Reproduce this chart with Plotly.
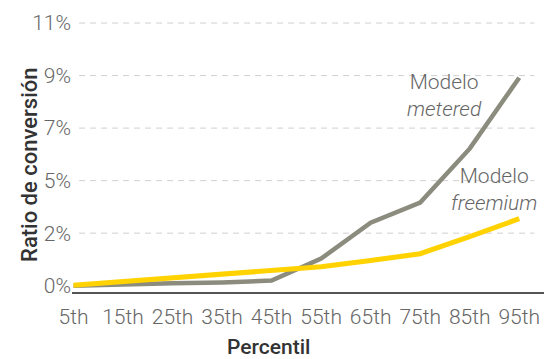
import plotly.graph_objects as go

percentiles = ["5th", "15th", "25th", "35th", "45th", "55th", "65th", "75th", "85th", "95th"]
metered = [0.0, 0.07, 0.10, 0.14, 0.22, 1.16, 2.70, 3.56, 5.87, 8.91]
freemium = [0.02, 0.17, 0.32, 0.47, 0.63, 0.81, 1.08, 1.37, 2.10, 2.87]
ytick_vals = [0, 2.25, 4.5, 6.75, 9, 11.25]
ytick_text = ["0%", "2%", "5%", "7%", "9%", "11%"]

x = list(range(len(percentiles)))
FONT = "Roboto"

fig = go.Figure()
fig.add_trace(go.Scatter(x=x, y=metered, mode="lines", name="Modelo metered",
                         line=dict(color="#8b8c7e", width=4.5), showlegend=False))
fig.add_trace(go.Scatter(x=x, y=freemium, mode="lines", name="Modelo freemium",
                         line=dict(color="#ffd200", width=5), showlegend=False))

shapes = []
for v in ytick_vals[1:]:
    shapes.append(dict(type="line", xref="paper", yref="y", x0=0.015, x1=0.98, y0=v, y1=v,
                       line=dict(color="#d0d0d0", width=1, dash="6px,5px"), layer="below"))

fig.update_layout(
    width=544, height=359,
    margin=dict(l=72, r=0, t=20, b=67),
    paper_bgcolor="white", plot_bgcolor="white",
    font=dict(family=FONT, color="#666666", size=21),
    shapes=shapes,
    xaxis=dict(range=[-0.03, 9.5], tickvals=x, ticktext=percentiles,
               showgrid=False, zeroline=False, showline=True, linecolor="#555555", linewidth=1.5,
               ticks="", ticklabelstandoff=5,
               tickfont=dict(family=FONT, size=21, color="#666666", weight=300)),
    yaxis=dict(range=[-0.27, 11.38], tickvals=ytick_vals, ticktext=ytick_text,
               showgrid=False, zeroline=False, showline=False, ticks="",
               tickfont=dict(family=FONT, size=21, color="#666666", weight=300)),
    annotations=[
        dict(text="Ratio de conversión", xref="paper", yref="paper", x=-0.089, y=0.467,
             xanchor="center", yanchor="middle", textangle=-90, showarrow=False,
             font=dict(family=FONT, size=22, color="#333333", weight=500)),
        dict(text="Percentil", xref="paper", yref="paper", x=(268 - 72) / 472, y=-0.203,
             xanchor="center", yanchor="middle", showarrow=False,
             font=dict(family=FONT, size=21, color="#333333", weight=500)),
        dict(text="Modelo<br><i>metered</i>", xref="x", yref="y", x=7.5, y=8.15,
             xanchor="center", yanchor="middle", showarrow=False, align="center",
             font=dict(family=FONT, size=21, color="#666666", weight=300)),
        dict(text="Modelo<br><i>freemium</i>", xref="x", yref="y", x=8.5, y=4.12,
             xanchor="center", yanchor="middle", showarrow=False, align="center",
             font=dict(family=FONT, size=21, color="#666666", weight=300)),
    ],
)

fig.write_html("out.html")
